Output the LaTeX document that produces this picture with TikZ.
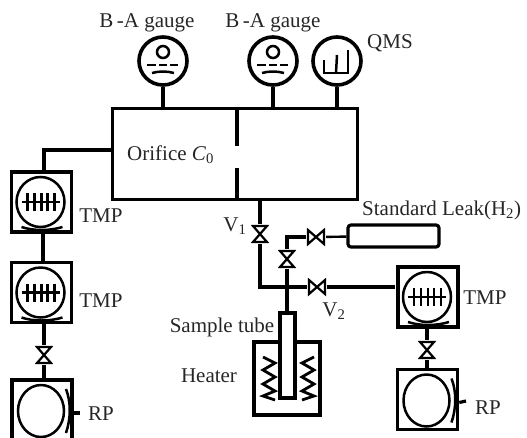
\documentclass[tikz,border=0pt]{standalone}
\usepackage{fontspec}
\setmainfont{Liberation Serif}
\usetikzlibrary{calc}
\tikzset{
  pipe/.style={line width=3.2pt},
  thinpipe/.style={line width=2.4pt},
  thinline/.style={line width=2.5pt},
  lbl/.style={inner sep=0pt, text=black!85, font=\fontsize{21}{23}\selectfont},
  pumpbox/.style={draw, line width=3.6pt, minimum width=60pt, minimum height=60pt, inner sep=0pt},
  gaugecirc/.style={draw, circle, line width=3.6pt, minimum size=48pt, inner sep=0pt},
  valvev/.style={minimum width=18pt, minimum height=20pt, inner sep=0pt, path picture={
    \draw[line width=2.2pt] ($(path picture bounding box.north west)+(2,2)$) -- ($(path picture bounding box.north east)+(-2,2)$)
      -- ($(path picture bounding box.south west)+(2,-2)$) -- ($(path picture bounding box.south east)+(-2,-2)$) -- cycle;}},
  valveh/.style={minimum width=20pt, minimum height=18pt, inner sep=0pt, path picture={
    \draw[line width=2.2pt] ($(path picture bounding box.north west)+(2,2)$) -- ($(path picture bounding box.south west)+(2,-2)$)
      -- ($(path picture bounding box.north east)+(-2,2)$) -- ($(path picture bounding box.south east)+(-2,-2)$) -- cycle;}}
}
% Turbo pump: name, centre
\newcommand{\tmpump}[2]{
  \node[pumpbox] (#1) at (#2) {};
  \begin{scope}[shift={(#2)}]
    \draw[thinline] (-1,0) ellipse (24 and 25);
    \draw[thinline] (-20,0) -- (18,0);
    \foreach \tx in {-14,-7,0,6,13} \draw[thinline] (\tx,-9) -- (\tx,9);
    \draw[thinline] (-20,25) .. controls (-8,29) and (8,29) .. (21,25);
  \end{scope}
}
% Rotary pump: name, centre, stub end
\newcommand{\rotpump}[3]{
  \node[pumpbox] (#1) at (#2) {};
  \begin{scope}[shift={(#2)}]
    \draw[thinline] (-1,1) ellipse (23 and 26);
    \draw[thinline] (24,-21) .. controls (29,-8) and (29,8) .. (24,23);
  \end{scope}
  \draw[pipe] ($(#1.east)+(0,3)$) -- #3;
}
% Gauge: name, x position
\newcommand{\bagauge}[2]{
  \node[gaugecirc] (#1) at (#2,61) {};
  \begin{scope}[shift={(#2,61)}]
    \draw[thinline] (0,-9) circle (6);
    \draw[line width=2.6pt] (-16,4) -- (-7,4) (-4,4) -- (4,4) (7,4) -- (15,4);
    \draw[thinline] (-11,12) .. controls (-4,10) and (4,10) .. (11,12);
  \end{scope}
}
\begin{document}
\begin{tikzpicture}[x=1pt,y=-1pt]
\clip (0,0) rectangle (527,437);

% Chamber and orifice
\node[draw, line width=3.4pt, minimum width=245pt, minimum height=91pt, inner sep=0pt] (chamber) at (235,154) {};
\coordinate (orfa) at (237,146);
\coordinate (orfb) at (237,168);
\draw[pipe] (chamber.north -| orfa) -- (orfa);
\draw[pipe] (orfb) -- (chamber.south -| orfb);
\node[lbl, anchor=west] (orifice) at (127,155) {Orifice \textit{C}\textsubscript{0}};

% Gauges on top
\bagauge{gaugea}{163}
\bagauge{gaugeb}{273}
\node[gaugecirc] (qms) at (337,61) {};
\draw[thinline] (324,60) -- (324,73) -- (348,73) -- (348,50);
\draw[thinline] (336,73) -- (337,55);
\draw[pipe] (gaugea) -- (gaugea |- chamber.north);
\draw[pipe] (gaugeb) -- (gaugeb |- chamber.north);
\draw[pipe] (qms) -- (qms |- chamber.north);
\node[lbl] (labela) at (147,23) {B\,-A gauge};
\node[lbl] (labelb) at (273,23) {B\,-A gauge};
\node[lbl] (labelq) at (390,43) {QMS};

% Left pumping line
\tmpump{tmpa}{41.5,202}
\tmpump{tmpb}{41.5,292.5}
\node[valvev] (valvea) at (44,355) {};
\rotpump{rpa}{42,410}{(80,413)}
\draw[pipe] (chamber.west |- 0,150) -- (44,150) -- (44,172);
\draw[pipe] (tmpa.south -| 43,0) -- (tmpb.north -| 43,0);
\draw[pipe] (tmpb.south -| 44,0) -- (valvea);
\draw[pipe] (valvea) -- (rpa.north -| valvea);
\node[lbl] (labelta) at (101,216) {TMP};
\node[lbl] (labeltb) at (101,301) {TMP};
\node[lbl] (labelra) at (101,414) {RP};

% Valves and sample line
\node[valvev] (vone) at (260,234) {};
\node[valvev] (vthree) at (287,259) {};
\node[valveh] (vfour) at (316,237) {};
\node[valveh] (vtwo) at (317,287) {};
\node[draw, rounded corners=3pt, line width=3.2pt, minimum width=91pt, minimum height=22pt, inner sep=0pt] (leak) at (393.5,236) {};
\draw[pipe] (vone |- chamber.south) -- (vone);
\draw[pipe] (vone) -- (260,287) -- (vtwo);
\draw[pipe] (vthree) -- (287,237) -- (vfour);
\draw[thinpipe] (vfour) -- (leak);
\draw[pipe] (vtwo) -- (395,287);
\node[lbl] (labelvone) at (235,226) {V\textsubscript{1}};
\node[lbl] (labelvtwo) at (334,311) {V\textsubscript{2}};
\node[lbl, anchor=west] (labelleak) at (362,210) {Standard Leak(H\textsubscript{2})};

% Sample tube and heater
\node[draw, line width=3.2pt, minimum width=66pt, minimum height=73pt, inner sep=0pt] (heater) at (287,378.5) {};
\node[draw, fill=white, line width=3.2pt, minimum width=15pt, minimum height=85pt, inner sep=0pt] (tube) at (287.5,355.5) {};
\draw[pipe] (vthree) -- (tube.north -| vthree);
\draw[line width=2.8pt] (263,357) -- (275,363) -- (263,370) -- (275,377) -- (263,384) -- (275,391) -- (263,396) -- (275,400);
\draw[line width=2.8pt] (314,357) -- (302,363) -- (314,370) -- (302,377) -- (314,384) -- (302,391) -- (314,396) -- (302,400);
\node[lbl] (labeltube) at (222,327) {Sample tube};
\node[lbl] (labelheat) at (209,376) {Heater};

% Right pumping line
\tmpump{tmpc}{428,297}
\node[valvev] (valveb) at (427,350) {};
\rotpump{rpb}{427.5,399.5}{(466,401)}
\draw[pipe] (tmpc.south -| valveb) -- (valveb);
\draw[pipe] (valveb) -- (rpb.north -| valveb);
\node[lbl] (labeltc) at (485,298) {TMP};
\node[lbl] (labelrb) at (488,408) {RP};
\end{tikzpicture}
\end{document}
